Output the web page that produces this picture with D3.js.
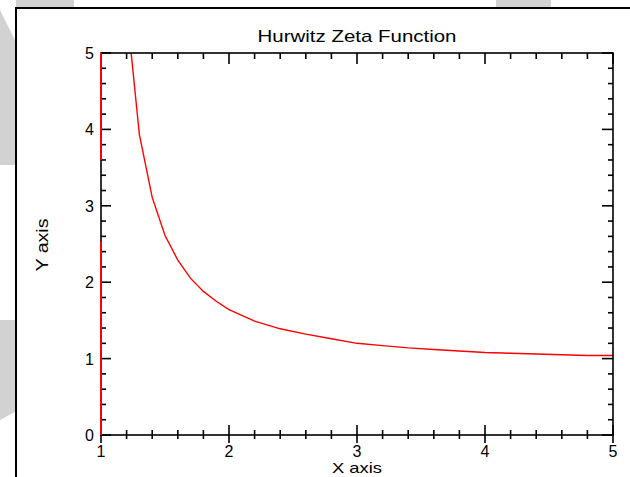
<!DOCTYPE html>
<html><head><meta charset="utf-8">
<script src="https://cdn.jsdelivr.net/npm/d3@7"></script>
<style>html,body{margin:0;padding:0;background:#fff;}svg{display:block;}</style>
</head><body>
<script>
// Data
const xValues = [1.2, 1.3, 1.4, 1.5, 1.6, 1.7, 1.8, 1.9, 2.0, 2.2, 2.4, 2.6, 2.8, 3.0, 3.2, 3.4, 3.6, 3.8, 4.0, 4.2, 4.4, 4.6, 4.8, 5.0];
const yValues = [5.59, 3.93, 3.11, 2.61, 2.29, 2.05, 1.88, 1.75, 1.64, 1.49, 1.39, 1.32, 1.26, 1.20, 1.17, 1.14, 1.12, 1.10, 1.08, 1.07, 1.06, 1.05, 1.04, 1.04];
const poleSegments = [[0, 2.53], [3.6, 5]]; // red trace along x = 1
const xTicks = [1, 2, 3, 4, 5];
const yTicks = [0, 1, 2, 3, 4, 5];
const title = "Hurwitz Zeta Function";
const xLabel = "X axis", yLabel = "Y axis";

const W = 630, H = 477;
const svg = d3.select("body").append("svg").attr("width", W).attr("height", H);

// background watermark shapes
const bg = svg.append("g").attr("fill", "#d2d2d2");
bg.append("rect").attr("x", 16).attr("y", 0).attr("width", 58).attr("height", 8);
bg.append("rect").attr("x", 496).attr("y", 0).attr("width", 55).attr("height", 8);
bg.append("polygon").attr("points", "0,10 15,40 15,165 0,165");
bg.append("polygon").attr("points", "0,320 15,320 15,412 0,420");

// outer frame
svg.append("rect").attr("x", 16).attr("y", 8).attr("width", W).attr("height", H).attr("fill", "#fff")
  .attr("stroke", "#000").attr("stroke-width", 2);

const x = d3.scaleLinear().domain([1, 5]).range([101, 613]);
const y = d3.scaleLinear().domain([0, 5]).range([435, 53]);

const font = "'Liberation Sans', Arial, sans-serif";

// curve
const clip = svg.append("clipPath").attr("id", "clip").append("rect")
  .attr("x", 100).attr("y", 53).attr("width", 514).attr("height", 383);
const pts = xValues.map((v, i) => [v, yValues[i]]);
const line = d3.line().x(d => x(d[0])).y(d => y(d[1]));
const plot = svg.append("g").attr("clip-path", "url(#clip)");

// axes box
const ax = svg.append("g").attr("stroke", "#000").attr("stroke-width", 1.6).attr("fill", "none");
ax.append("rect").attr("x", x(1)).attr("y", y(5)).attr("width", x(5) - x(1)).attr("height", y(0) - y(5));

const xMinor = d3.range(1, 5.001, 0.2).map(v => +v.toFixed(1));
const yMinor = d3.range(0, 5.001, 0.2).map(v => +v.toFixed(1));
const isMajor = v => Math.abs(v - Math.round(v)) < 1e-6;

xMinor.forEach(v => {
  const px = x(v), maj = isMajor(v);
  ax.append("line").attr("x1", px).attr("x2", px)
    .attr("y1", y(0) - (maj ? 10 : 5)).attr("y2", y(0) + (maj ? 8 : 4));
  ax.append("line").attr("x1", px).attr("x2", px)
    .attr("y1", y(5)).attr("y2", y(5) + (maj ? 11 : 6));
});
yMinor.forEach(v => {
  const py = y(v), maj = isMajor(v);
  ax.append("line").attr("x1", x(1)).attr("x2", x(1) + (maj ? 10 : 5)).attr("y1", py).attr("y2", py);
  ax.append("line").attr("x1", x(5)).attr("x2", x(5) - (maj ? 11 : 5)).attr("y1", py).attr("y2", py);
});

// red traces drawn over axis
poleSegments.forEach(s => {
  svg.append("line").attr("x1", x(1)).attr("x2", x(1)).attr("y1", y(s[0])).attr("y2", y(s[1]))
    .attr("stroke", "#ff0000").attr("stroke-width", 2);
});
plot.append("path").datum(pts).attr("d", line).attr("fill", "none")
  .attr("stroke", "#ff0000").attr("stroke-width", 1.4);

// tick labels
svg.append("g").selectAll("text").data(xTicks).join("text")
  .attr("x", d => x(d)).attr("y", 457).attr("text-anchor", "middle")
  .attr("font-family", font).attr("font-size", 16).attr("fill", "#000").text(d => d);
svg.append("g").selectAll("text").data(yTicks).join("text")
  .attr("x", 94).attr("y", d => y(d) + 6).attr("text-anchor", "end")
  .attr("font-family", font).attr("font-size", 16).attr("fill", "#000").text(d => d);

// titles
svg.append("text").attr("x", 357).attr("y", 42).attr("text-anchor", "middle")
  .attr("font-family", font).attr("font-size", 17).attr("textLength", 199)
  .attr("lengthAdjust", "spacingAndGlyphs").text(title);
svg.append("text").attr("x", 357).attr("y", 473).attr("text-anchor", "middle")
  .attr("font-family", font).attr("font-size", 15).attr("textLength", 50)
  .attr("lengthAdjust", "spacingAndGlyphs").text(xLabel);
svg.append("text").attr("transform", "translate(48,245) rotate(-90)").attr("text-anchor", "middle")
  .attr("font-family", font).attr("font-size", 16).attr("textLength", 53)
  .attr("lengthAdjust", "spacingAndGlyphs").text(yLabel);
</script>
</body></html>
